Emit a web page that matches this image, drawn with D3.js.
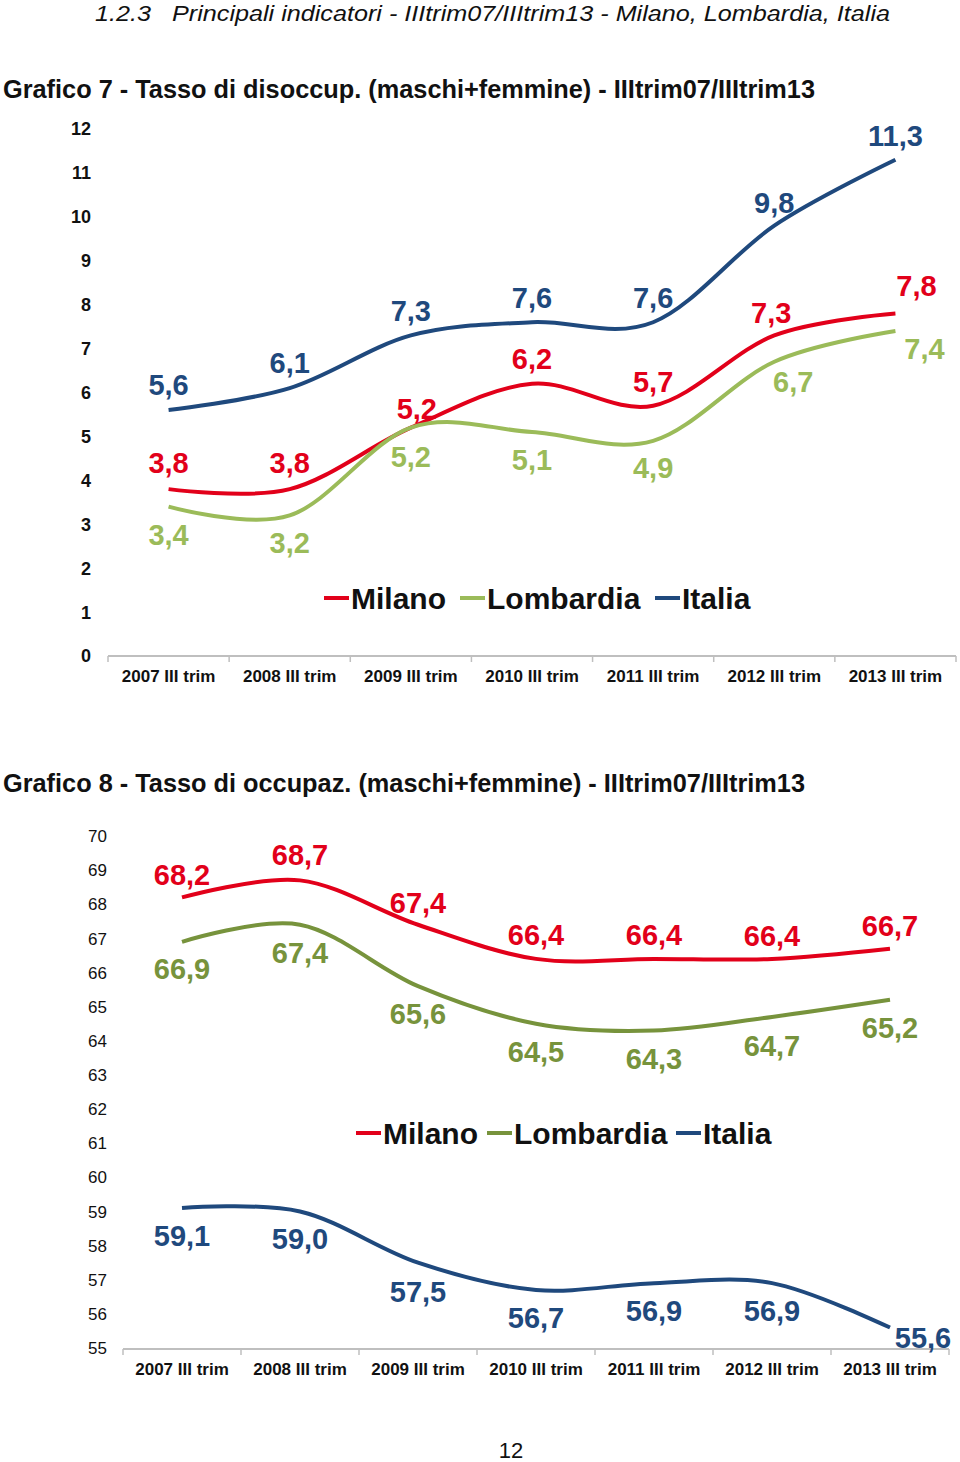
<!DOCTYPE html>
<html><head><meta charset="utf-8">
<script src="https://cdn.jsdelivr.net/npm/d3@7/dist/d3.min.js"></script>
<style>body{margin:0;background:#fff}svg{display:block}</style>
</head><body>
<svg id="c" width="960" height="1462"></svg>
<script>
// ---------- DATA ----------
const categories = ["2007 III trim","2008 III trim","2009 III trim","2010 III trim","2011 III trim","2012 III trim","2013 III trim"];
const seriesNames = ["Milano","Lombardia","Italia"];

// Grafico 7 - Tasso di disoccupazione
const disoccMilano    = [3.8, 3.8, 5.2, 6.2, 5.7, 7.3, 7.8];
const disoccLombardia = [3.4, 3.2, 5.2, 5.1, 4.9, 6.7, 7.4];
const disoccItalia    = [5.6, 6.1, 7.3, 7.6, 7.6, 9.8, 11.3];
const disoccTicks = [0,1,2,3,4,5,6,7,8,9,10,11,12];

// Grafico 8 - Tasso di occupazione
const occMilano    = [68.2, 68.7, 67.4, 66.4, 66.4, 66.4, 66.7];
const occLombardia = [66.9, 67.4, 65.6, 64.5, 64.3, 64.7, 65.2];
const occItalia    = [59.1, 59.0, 57.5, 56.7, 56.9, 56.9, 55.6];
const occTicks = [55,56,57,58,59,60,61,62,63,64,65,66,67,68,69,70];

const pageTitle = "1.2.3   Principali indicatori - IIItrim07/IIItrim13 - Milano, Lombardia, Italia";
const title7 = "Grafico 7 - Tasso di disoccup. (maschi+femmine) - IIItrim07/IIItrim13";
const title8 = "Grafico 8 - Tasso di occupaz. (maschi+femmine) - IIItrim07/IIItrim13";
const pageNumber = "12";

// ---------- STYLE ----------
const RED = "#E2001A", BLUE = "#1F497D", GREEN1 = "#9BBB59", GREEN2 = "#77933C";
const FONT = "'Liberation Sans', Arial, sans-serif";
const fmt = v => d3.format(".1f")(v).replace(".", ",");

const svg = d3.select("#c");

// headings
svg.append("text").attr("x", 95).attr("y", 21).attr("font-family", "'Liberation Sans Narrow', " + FONT)
  .attr("font-style", "italic").attr("font-size", 22).attr("fill", "#111").style("white-space", "pre")
  .attr("textLength", 795).attr("lengthAdjust", "spacingAndGlyphs").text(pageTitle);
svg.append("text").attr("x", 3).attr("y", 98).attr("font-family", "'Liberation Sans Narrow', " + FONT)
  .attr("font-weight", "bold").attr("font-size", 25).attr("fill", "#111")
  .attr("textLength", 812).attr("lengthAdjust", "spacingAndGlyphs").text(title7);
svg.append("text").attr("x", 3).attr("y", 792).attr("font-family", "'Liberation Sans Narrow', " + FONT)
  .attr("font-weight", "bold").attr("font-size", 25).attr("fill", "#111")
  .attr("textLength", 802).attr("lengthAdjust", "spacingAndGlyphs").text(title8);
svg.append("text").attr("x", 511).attr("y", 1458).attr("text-anchor", "middle")
  .attr("font-family", FONT).attr("font-size", 22).attr("fill", "#111").text(pageNumber);

function drawChart(cfg) {
  const x = d3.scaleBand().domain(categories).range([cfg.x0, cfg.x1]).padding(0);
  const y = d3.scaleLinear().domain(cfg.domain).range([cfg.yBottom, cfg.yTop]);
  const g = svg.append("g");

  // y tick labels (no axis line)
  g.selectAll("text.yt").data(cfg.ticks).join("text")
    .attr("x", cfg.tickRight).attr("y", d => y(d) + cfg.tickFont * 0.36)
    .attr("text-anchor", "end").attr("font-family", FONT)
    .attr("font-size", cfg.tickFont).attr("font-weight", cfg.tickWeight).attr("fill", "#111")
    .text(d => d);

  // x axis
  const xAxis = d3.axisBottom(x).tickSize(0).tickFormat("");
  const ax = g.append("g").attr("transform", `translate(0,${cfg.axisY})`).call(xAxis);
  ax.select(".domain").attr("stroke", "#bfbfbf").attr("stroke-width", 2).attr("d", `M${cfg.x0},0H${cfg.x1}`);
  const bounds = categories.map(c => x(c)).concat([cfg.x1]);
  g.selectAll("line.xt").data(bounds).join("line")
    .attr("x1", d => d).attr("x2", d => d).attr("y1", cfg.axisY).attr("y2", cfg.axisY + 6)
    .attr("stroke", "#bfbfbf").attr("stroke-width", 1.5);
  g.selectAll("text.xl").data(categories).join("text")
    .attr("x", d => x(d) + x.bandwidth() / 2).attr("y", cfg.catY)
    .attr("text-anchor", "middle").attr("font-family", FONT).attr("font-weight", "bold")
    .attr("font-size", 17).attr("fill", "#111").text(d => d);

  const line = d3.line().x((d, i) => x(categories[i]) + x.bandwidth() / 2).y(d => y(d))
    .curve(d3.curveCardinal.tension(0));

  cfg.series.forEach(s => {
    g.append("path").datum(s.values).attr("d", line).attr("fill", "none")
      .attr("stroke", s.color).attr("stroke-width", 4).attr("stroke-linecap", "butt");
    g.selectAll(null).data(s.values).join("text")
      .attr("x", (d, i) => x(categories[i]) + x.bandwidth() / 2 + (s.dx[i] || 0))
      .attr("y", (d, i) => y(d) + s.dy[i] + 10)
      .attr("text-anchor", "middle").attr("font-family", FONT).attr("font-weight", "bold")
      .attr("font-size", 29).attr("fill", s.color).text(d => fmt(d));
  });

  // legend
  cfg.series.forEach((s, i) => {
    const L = cfg.legend[i];
    g.append("line").attr("x1", L[0]).attr("x2", L[0] + 25).attr("y1", cfg.legendY).attr("y2", cfg.legendY)
      .attr("stroke", s.color).attr("stroke-width", 4);
    g.append("text").attr("x", L[0] + 27).attr("y", cfg.legendY + 11)
      .attr("font-family", FONT).attr("font-weight", "bold").attr("font-size", 30).attr("fill", "#111")
      .text(s.name);
  });
}

// Chart 7
drawChart({
  x0: 108, x1: 956, yTop: 129, yBottom: 656, domain: [0, 12], ticks: disoccTicks,
  tickRight: 91, tickFont: 18, tickWeight: "bold", axisY: 656, catY: 682,
  legendY: 598, legend: [[324], [460], [655]],
  series: [
    { name: seriesNames[0], values: disoccMilano, color: RED,
      dx: [0, 0, 6, 0, 0, -3, 21], dy: [-26, -26, -19, -25, -24, -22, -27] },
    { name: seriesNames[1], values: disoccLombardia, color: GREEN1,
      dx: [0, 0, 0, 0, 0, 19, 29], dy: [28, 28, 29, 28, 27, 20, 18] },
    { name: seriesNames[2], values: disoccItalia, color: BLUE,
      dx: [0, 0, 0, 0, 0, 0, 0], dy: [-25, -25, -24, -24, -24, -23, -24] }
  ]
});

// Chart 8
drawChart({
  x0: 123, x1: 949, yTop: 836, yBottom: 1348, domain: [55, 70], ticks: occTicks,
  tickRight: 107, tickFont: 17, tickWeight: "normal", axisY: 1349, catY: 1375,
  legendY: 1133, legend: [[356], [487], [676]],
  series: [
    { name: seriesNames[0], values: occMilano, color: RED,
      dx: [0, 0, 0, 0, 0, 0, 0], dy: [-22, -25, -22, -24, -24, -23, -23] },
    { name: seriesNames[1], values: occLombardia, color: GREEN2,
      dx: [0, 0, 0, 0, 0, 0, 0], dy: [27, 28, 28, 28, 28, 29, 28] },
    { name: seriesNames[2], values: occItalia, color: BLUE,
      dx: [0, 0, 0, 0, 0, 0, 33], dy: [28, 28, 29, 28, 28, 28, 10] }
  ]
});
</script>
</body></html>
